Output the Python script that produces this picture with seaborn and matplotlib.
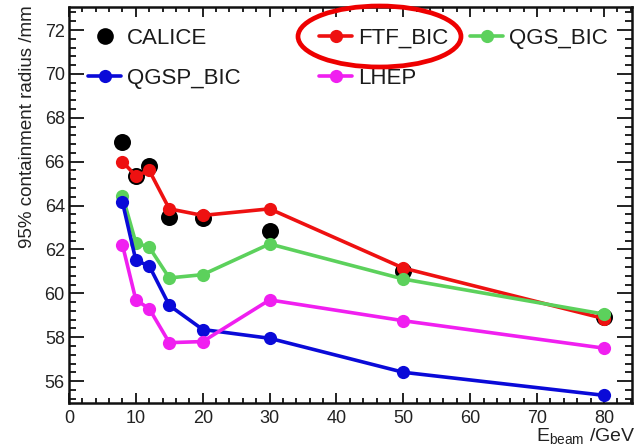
import numpy as np
import pandas as pd
import matplotlib
matplotlib.use("Agg")
import matplotlib.pyplot as plt
import seaborn as sns
from matplotlib.lines import Line2D
from matplotlib.patches import Ellipse

# ---- data ----
energy = [8, 10, 12, 15, 20, 30, 50, 80]
calice = [66.9, 65.35, 65.8, 63.5, 63.45, 62.85, 61.0, 58.9]
ftf_bic = [66.0, 65.35, 65.6, 63.85, 63.55, 63.85, 61.15, 58.85]
qgs_bic = [64.45, 62.3, 62.1, 60.7, 60.85, 62.25, 60.65, 59.05]
qgsp_bic = [64.15, 61.5, 61.25, 59.45, 58.35, 57.95, 56.4, 55.35]
lhep = [62.2, 59.7, 59.3, 57.75, 57.8, 59.7, 58.75, 57.5]

models = ["FTF_BIC", "QGS_BIC", "QGSP_BIC", "LHEP"]
model_values = [ftf_bic, qgs_bic, qgsp_bic, lhep]
colors = {"FTF_BIC": "#ee1111", "QGS_BIC": "#5cd15c", "QGSP_BIC": "#0a0ad8", "LHEP": "#f01ff0"}

x_ticks = [0, 10, 20, 30, 40, 50, 60, 70, 80]
y_ticks = [56, 58, 60, 62, 64, 66, 68, 70, 72]

df = pd.DataFrame({
    "E": energy * len(models),
    "r": [v for vals in model_values for v in vals],
    "model": [m for m in models for _ in energy],
})
df_data = pd.DataFrame({"E": energy, "r": calice})

sns.set_theme(style="ticks")
plt.rcParams["font.family"] = ["Liberation Sans", "DejaVu Sans"]
plt.rcParams["mathtext.fontset"] = "custom"
plt.rcParams["mathtext.rm"] = "Liberation Sans"
plt.rcParams["mathtext.default"] = "regular"

W, H = 637, 445
fig = plt.figure(figsize=(W / 100, H / 100), dpi=100)
L, R, B, T = 69, 632, 403, 7
ax = fig.add_axes([L / W, 1 - B / H, (R - L) / W, (B - T) / H])

sns.scatterplot(data=df_data, x="E", y="r", color="black", s=150, linewidth=0,
                ax=ax, legend=False, zorder=2)
sns.lineplot(data=df, x="E", y="r", hue="model", hue_order=models, palette=colors,
             marker="o", markersize=9.5, markeredgewidth=0, linewidth=2.6,
             sort=False, legend=False, ax=ax, zorder=3)

ax.set_xlim(0, 84.2)
ax.set_ylim(55.0, 73.05)
ax.set_xticks(x_ticks)
ax.set_yticks(y_ticks)
ax.xaxis.set_minor_locator(matplotlib.ticker.MultipleLocator(2))
ax.yaxis.set_minor_locator(matplotlib.ticker.MultipleLocator(0.4))
ax.tick_params(which="both", direction="in", top=True, right=True, width=1.4,
               color="#222222", labelsize=13, labelcolor="#222222")
ax.tick_params(axis="x", which="major", length=7.5, pad=5)
ax.tick_params(axis="x", which="minor", length=3.6)
ax.tick_params(axis="y", which="major", length=10.5, pad=3)
ax.tick_params(axis="y", which="minor", length=5)
for sp in ax.spines.values():
    sp.set_linewidth(1.8)
    sp.set_color("#111111")

ax.set_ylabel("95% containment radius /mm", fontsize=13.5, loc="top", color="#222222")
ax.yaxis.set_label_coords(-0.058, 1.005)
ax.set_xlabel("E$_{beam}$ /GeV", fontsize=14, loc="right", color="#222222")
ax.xaxis.set_label_coords(1.006, -0.058)

# legend columns
def h_line(c):
    return Line2D([], [], color=c, linewidth=2.6, marker="o", markersize=9.5, markeredgewidth=0)

h_cal = Line2D([], [], color="black", marker="o", linestyle="None", markersize=12, markeredgewidth=0)
legend_kw = dict(frameon=False, fontsize=16, loc="upper left", borderpad=0,
                 borderaxespad=0, handlelength=1.5, handletextpad=0.25,
                 labelspacing=0.86, bbox_transform=fig.transFigure)
colspec = [
    (88, [h_cal, h_line(colors["QGSP_BIC"])], ["CALICE", "QGSP_BIC"]),
    (319, [h_line(colors["FTF_BIC"]), h_line(colors["LHEP"])], ["FTF_BIC", "LHEP"]),
    (470, [h_line(colors["QGS_BIC"])], ["QGS_BIC"]),
]
leg_top = 28
for x0, hs, labs in colspec:
    lg = fig.legend(hs, labs, bbox_to_anchor=(x0 / W, 1 - leg_top / H), **legend_kw)
    for t in lg.get_texts():
        t.set_color("#1a1a1a")

# highlight ellipse around FTF_BIC
ell = Ellipse((379.5 / W, 1 - 36.5 / H), 163 / W, 61 / H, transform=fig.transFigure,
              fill=False, edgecolor="#ee0000", linewidth=3.4, zorder=10)
fig.patches.append(ell)

fig.savefig("out.png", dpi=100)
